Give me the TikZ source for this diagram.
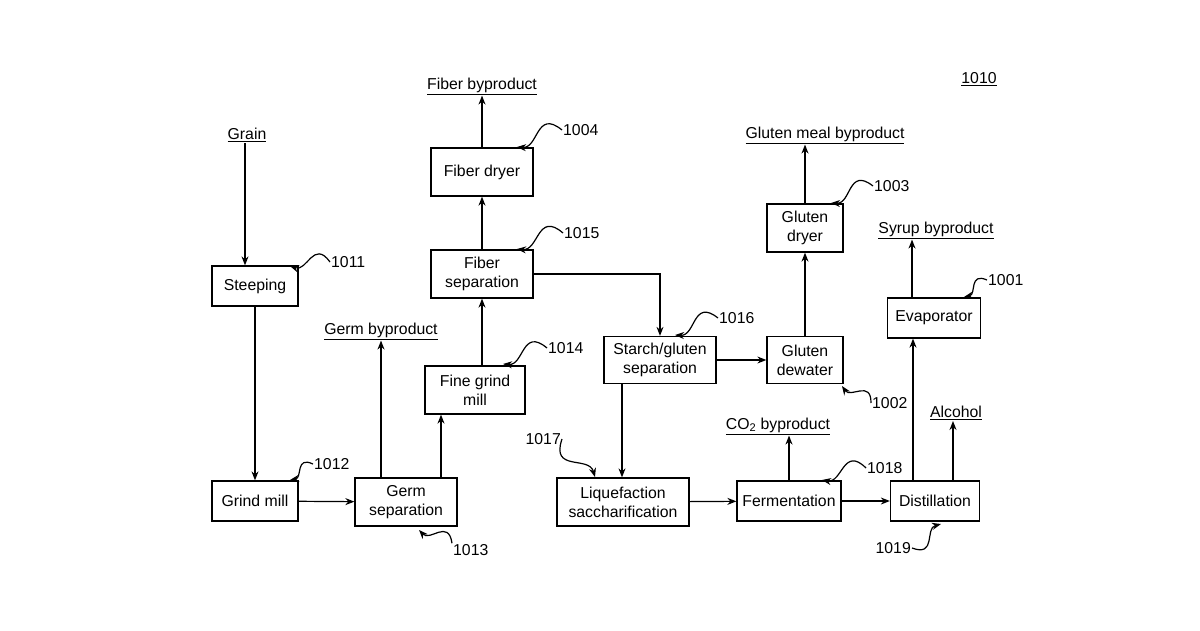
\documentclass[tikz,border=0pt]{standalone}
\usepackage{fontspec}
\setmainfont{Liberation Sans}
\usetikzlibrary{arrows.meta,calc}
\begin{document}
\begin{tikzpicture}[x=1pt,y=-1pt, >={Stealth[length=9pt,width=7pt]},
  every node/.style={font=\fontsize{15.8}{19}\selectfont, align=center},
  box/.style={draw, line width=1.3pt, inner sep=0pt},
  lbl/.style={inner sep=1pt},
  tag/.style={inner sep=1pt},
  flow/.style={->, line width=1.2pt},
  leader/.style={->, line width=1.2pt}]
\useasboundingbox (0,0) rectangle (1200,630);
% boxes
\node[box, minimum width=86, minimum height=40] (steep) at (255,286) {Steeping};
\node[box, minimum width=86, minimum height=40] (grind) at (255,501) {Grind mill};
\node[box, minimum width=102, minimum height=48] (germ) at (406,502) {Germ\\separation};
\node[box, minimum width=100, minimum height=48] (fine) at (475,390) {Fine grind\\mill};
\node[box, minimum width=102, minimum height=48] (fsep) at (482,274) {Fiber\\separation};
\node[box, minimum width=102, minimum height=48] (fdry) at (482,172) {Fiber dryer};
\node[box, minimum width=112, minimum height=47] (sgsep) at (660,360) {Starch/gluten\\separation};
\node[box, minimum width=76, minimum height=47] (gdew) at (805,360) {Gluten\\dewater};
\node[box, minimum width=76, minimum height=48] (gdry) at (805,228) {Gluten\\dryer};
\node[box, minimum width=93, minimum height=40] (evap) at (934,318) {Evaporator};
\node[box, minimum width=132, minimum height=48] (liq) at (623,502) {Liquefaction\\saccharification};
\node[box, minimum width=104, minimum height=40] (ferm) at (789,501) {Fermentation};
\node[box, minimum width=89, minimum height=40] (dist) at (935,501) {Distillation};
% outputs
\node[lbl] (grain) at (247,135) {\underline{Grain}};
\node[lbl] (fibbp) at (482,86) {\underline{Fiber byproduct}};
\node[lbl] (glubp) at (825,135) {\underline{Gluten meal byproduct}};
\node[lbl] (syrbp) at (936,230) {\underline{Syrup byproduct}};
\node[lbl] (gerbp) at (381,331) {\underline{Germ byproduct}};
\node[lbl] (co2bp) at (778,426) {\underline{CO\textsubscript{2} byproduct}};
\node[lbl] (alc) at (956,413) {\underline{Alcohol}};
\node[lbl] (fig) at (979,79) {\underline{1010}};
% flow
\draw[flow] (grain.south -| 245,0) -- (steep.north -| 245,0);
\draw[flow] (steep) -- (grind);
\draw[flow] (grind) -- (germ);
\draw[flow] (germ.north -| 381,0) -- (gerbp.south -| 381,0);
\draw[flow] (germ.north -| 441,0) -- (fine.south -| 441,0);
\draw[flow] (fine.north -| 482,0) -- (fsep);
\draw[flow] (fsep) -- (fdry);
\draw[flow] (fdry) -- (fibbp);
\draw[flow] (fsep.east) -| (sgsep.north);
\draw[flow] (sgsep) -- (gdew);
\draw[flow] (gdew) -- (gdry);
\draw[flow] (gdry.north) -- (gdry.north |- glubp.south);
\draw[flow] (sgsep.south -| 622,0) -- (liq.north -| 622,0);
\draw[flow] (liq) -- (ferm);
\draw[flow] (ferm) -- (dist);
\draw[flow] (ferm.north) -- (ferm.north |- co2bp.south);
\draw[flow] (dist.north -| 913,0) -- (evap.south -| 913,0);
\draw[flow] (dist.north -| 953,0) -- (alc.south -| 953,0);
\draw[flow] (evap.north -| 912,0) -- (syrbp.south -| 912,0);
% reference numerals
\node[tag, anchor=west] (t1011) at (330,262) {1011};
\node[tag, anchor=west] (t1004) at (562,130) {1004};
\node[tag, anchor=west] (t1015) at (563,233) {1015};
\node[tag, anchor=west] (t1003) at (873,186) {1003};
\node[tag, anchor=west] (t1001) at (987,280) {1001};
\node[tag, anchor=west] (t1016) at (718,318) {1016};
\node[tag, anchor=west] (t1014) at (547,348) {1014};
\node[tag, anchor=west] (t1002) at (871,403) {1002};
\node[tag, anchor=west] (t1012) at (313,464) {1012};
\node[tag, anchor=west] (t1013) at (452,550) {1013};
\node[tag, anchor=east] (t1017) at (562,439) {1017};
\node[tag, anchor=west] (t1018) at (866,468) {1018};
\node[tag, anchor=east] (t1019) at (912,548) {1019};
\coordinate (e1011) at (290,266);
\coordinate (e1004) at (517,147);
\coordinate (e1015) at (517,249);
\coordinate (e1003) at (831,203);
\coordinate (e1001) at (964,297);
\coordinate (e1016) at (675,335);
\coordinate (e1014) at (503,364);
\coordinate (e1002) at (842,386);
\coordinate (e1012) at (290,480);
\coordinate (e1013) at (419,530);
\coordinate (e1017) at (595,477);
\coordinate (e1018) at (822,480);
\coordinate (e1019) at (941,524);
\foreach \t/\a in {1011/west,1004/west,1015/west,1003/west,1001/west,1016/west,1014/west,1002/west,1012/west,1018/west,1013/north west,1017/east,1019/east}
  \draw[leader] (t\t.\a) .. controls ($(t\t.\a)!.7!-60:(e\t)$) and ($(e\t)!.45!-25:(t\t.\a)$) .. (e\t);
\end{tikzpicture}
\end{document}
